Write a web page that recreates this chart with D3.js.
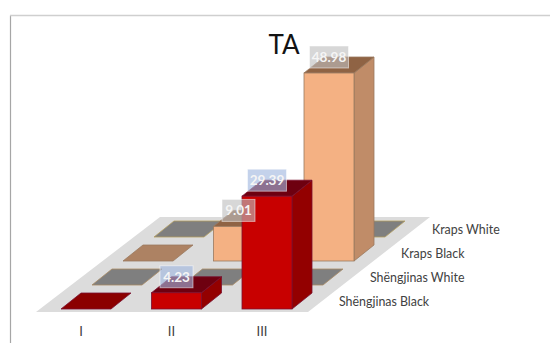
<!DOCTYPE html>
<html>
<head>
<meta charset="utf-8">
<script src="https://cdn.jsdelivr.net/npm/d3@7/dist/d3.min.js"></script>
<style>
  html, body { margin: 0; padding: 0; background: #fff; }
  svg { display: block; }
  text { font-family: Lato, "Open Sans", sans-serif; opacity: 0.99; }
</style>
</head>
<body>
<svg id="chart" width="550" height="343"></svg>
<script>
const title = "TA";
const categories = ["I", "II", "III"];
const seriesNames = ["Shëngjinas Black", "Shëngjinas White", "Kraps Black", "Kraps White"];
const shengjinasBlack = [0, 4.23, 29.39];
const shengjinasWhite = [0, 0, 0];
const krapsBlack = [0, 9.01, 48.98];
const krapsWhite = [0, 0, 0];
const seriesValues = [shengjinasBlack, shengjinasWhite, krapsBlack, krapsWhite];
const faceColors = ["#c80000", "#7f7f7f", "#f4b183", "#7f7f7f"];
const sideColors = ["#930000", "#6f6f6f", "#c08c68", "#6f6f6f"];
const lidColors = ["#6e0010", "#666666", "#8f6344", "#666666"];
const flatColors = ["#8b0000", "#7f7f7f", "#ad8263", "#7f7f7f"];
const edgeColors = ["#7a1030", "#a98a63", "#9a7a60", "#b5a060"];
const labelFills = ["rgba(160,182,222,0.62)", "", "rgba(190,190,190,0.62)", ""];

const svg = d3.select("#chart");

// Oblique projection: the column scale runs along x, the row scale recedes up and to the right.
const colX = d3.scaleBand().domain(categories).range([61, 292]).paddingInner(0.4475).paddingOuter(0);
const rowDepth = d3.scalePoint().domain(seriesNames).range([0, 3]);
const valueY = d3.scaleLinear().domain([0, 48.98]).range([0, 188]);

const rowDx = 31, rowDy = -24;
const depthDx = 20, depthDy = -16;
const frontY = 309;

function base(cat, ser) {
  const r = rowDepth(ser);
  return { x: colX(cat) + r * rowDx, y: frontY + r * rowDy, w: colX.bandwidth() };
}
const pts = a => a.map(p => p.join(",")).join(" ");

// Frame lines
svg.append("line").attr("x1", 10.5).attr("x2", 10.5).attr("y1", 15.5).attr("y2", 343).attr("stroke", "#a6a6a6").attr("stroke-width", 1.2);
svg.append("line").attr("x1", 10).attr("x2", 550).attr("y1", 15.5).attr("y2", 15.5).attr("stroke", "#cfcfcf").attr("stroke-width", 1.5);

// Floor
svg.append("polygon").attr("points", pts([[36, 312], [308, 312], [430, 217], [160, 217]])).attr("fill", "#dcdcdc");

const bars = [];
seriesNames.forEach((s, si) => categories.forEach((c, ci) => bars.push({ s, si, c, ci, v: seriesValues[si][ci] })));
// Back rows are painted first so nearer bars overlap them.
bars.sort((a, b) => b.si - a.si || a.ci - b.ci);

const g = svg.append("g");
bars.forEach(d => {
  const b = base(d.c, d.s);
  const h = valueY(d.v);
  const top = b.y - h;
  const e = edgeColors[d.si];
  if (d.v === 0) {
    g.append("polygon")
      .attr("points", pts([[b.x, b.y], [b.x + b.w, b.y], [b.x + b.w + depthDx, b.y + depthDy], [b.x + depthDx, b.y + depthDy]]))
      .attr("fill", flatColors[d.si]).attr("stroke", e).attr("stroke-width", 0.8);
    return;
  }
  g.append("polygon")
    .attr("points", pts([[b.x + b.w, b.y], [b.x + b.w + depthDx, b.y + depthDy], [b.x + b.w + depthDx, top + depthDy], [b.x + b.w, top]]))
    .attr("fill", sideColors[d.si]).attr("stroke", e).attr("stroke-width", 0.8);
  g.append("polygon")
    .attr("points", pts([[b.x, top], [b.x + b.w, top], [b.x + b.w + depthDx, top + depthDy], [b.x + depthDx, top + depthDy]]))
    .attr("fill", lidColors[d.si]).attr("stroke", e).attr("stroke-width", 0.8);
  g.append("rect")
    .attr("x", b.x).attr("y", top).attr("width", b.w).attr("height", h)
    .attr("fill", faceColors[d.si]).attr("stroke", e).attr("stroke-width", 0.8);
});

// Value labels sit just above each bar's front top edge.
bars.filter(d => d.v > 0).forEach(d => {
  const b = base(d.c, d.s);
  const top = b.y - valueY(d.v);
  const cx = b.x + b.w / 2;
  const cy = top - 16;
  const txt = d.v.toFixed(2);
  const w = txt.length > 4 ? 39 : 33;
  svg.append("rect").attr("x", cx - w / 2).attr("y", cy - 11).attr("width", w).attr("height", 22)
    .attr("fill", labelFills[d.si]).attr("stroke", "rgba(255,255,255,0.5)").attr("stroke-width", 1);
  svg.append("text").attr("x", cx).attr("y", cy + 5).attr("text-anchor", "middle")
    .attr("font-size", 13.5).attr("font-weight", 700).attr("fill", "#f6f6f6").text(txt);
});

// Category labels
svg.selectAll("text.cat").data(categories).join("text").attr("class", "cat")
  .attr("x", c => colX(c) + colX.bandwidth() / 2 - 5).attr("y", 336).attr("text-anchor", "middle")
  .attr("font-size", 13).attr("fill", "#404040").text(c => c);

// Series labels, stepping back with the rows
svg.selectAll("text.ser").data(seriesNames).join("text").attr("class", "ser")
  .attr("x", s => 339 + rowDepth(s) * rowDx).attr("y", s => 306 + rowDepth(s) * rowDy)
  .attr("font-size", 12.4).attr("fill", "#404040").text(s => s);

// Chart title
svg.append("text").attr("x", 284).attr("y", 54).attr("text-anchor", "middle")
  .attr("font-size", 26).attr("fill", "#111").text(title);
</script>
</body>
</html>
